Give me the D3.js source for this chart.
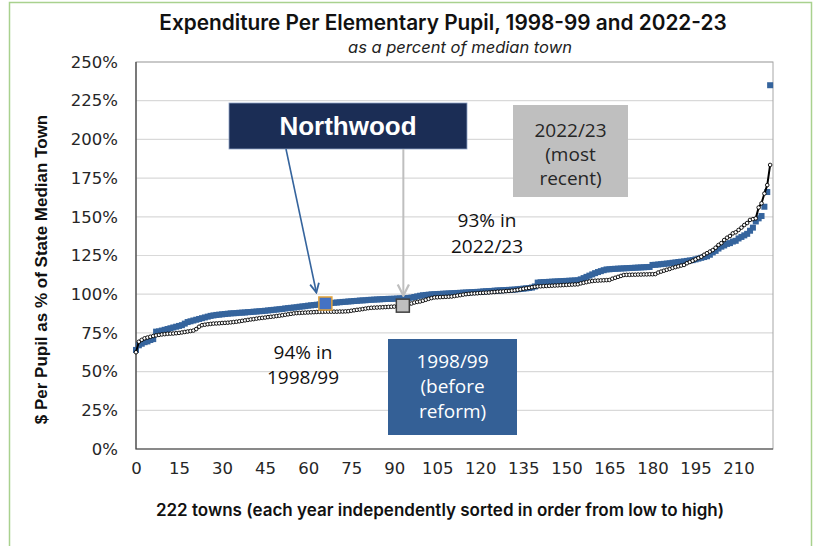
<!DOCTYPE html>
<html lang="en">
<head>
  <meta charset="UTF-8">
  <title>Expenditure Per Elementary Pupil</title>
  <style>
    body { margin: 0; padding: 0; background: #ffffff; }
    svg { display: block; }
  </style>
</head>
<body>
<div id="chart"></div>
<script src="https://d3js.org/d3.v7.min.js"></script>
<script>
  // 1998/99 (blue squares), towns sorted low -> high, % of state median
  const vals9899 = [
    64, 67, 68, 69, 69.5, 70.4, 71, 75.8, 76, 76.5,
    77, 77.5, 78, 78.5, 79, 79.5, 80, 81, 82, 82.5,
    83, 83.5, 84, 84.5, 85, 85.5, 86, 86.3, 86.6, 86.8,
    87, 87.2, 87.4, 87.6, 87.7, 87.8, 88, 88.1, 88.2, 88.4,
    88.5, 88.7, 88.8, 89, 89.1, 89.3, 89.5, 89.7, 89.9, 90.1,
    90.3, 90.5, 90.8, 91, 91.2, 91.4, 91.6, 91.9, 92.1, 92.3,
    92.6, 92.8, 93, 93.2, 93.4, 93.6, 94, 94.1, 94.3, 94.5,
    94.6, 94.8, 95, 95.1, 95.3, 95.4, 95.6, 95.7, 95.9, 96,
    96.1, 96.3, 96.4, 96.5, 96.6, 96.7, 96.8, 96.9, 97, 97,
    97.1, 97.2, 97.3, 97.4, 97.5, 97.6, 97.8, 98.2, 98.6, 99,
    99.3, 99.5, 99.7, 99.9, 100, 100.1, 100.2, 100.3, 100.4, 100.5,
    100.6, 100.7, 100.8, 100.9, 101, 101.1, 101.2, 101.3, 101.4, 101.5,
    101.6, 101.8, 101.9, 102, 102.1, 102.3, 102.4, 102.5, 102.6, 102.7,
    102.8, 102.9, 103, 103.2, 103.4, 103.6, 103.8, 104, 104.3, 105,
    107.5, 107.7, 107.8, 107.9, 108, 108.1, 108.2, 108.3, 108.4, 108.5,
    108.6, 108.7, 108.8, 108.9, 109, 109.6, 110.4, 111.2, 112, 112.8,
    113.6, 114.3, 114.9, 115.5, 116, 116.1, 116.3, 116.4, 116.5, 116.6,
    116.7, 116.8, 116.9, 117, 117.1, 117.2, 117.3, 117.4, 117.5, 117.6,
    118.9, 119, 119.2, 119.4, 119.6, 119.8, 120, 120.3, 120.5, 120.8,
    121, 121.2, 121.5, 121.8, 122, 122.5, 123, 123.5, 124, 124.5,
    125.5, 127, 128, 129.5, 130.7, 131.5, 132.5, 133, 134, 134.5,
    136, 137, 138, 139, 141, 143, 147, 149, 150.5, 156.5,
    166, 235
  ];

  // 2022/23 (black line, white markers)
  const vals2223 = [
    62.5, 69.3, 70.5, 71.5, 72, 72.5, 73, 73.4, 73.7, 74,
    74.2, 74.4, 74.5, 74.6, 74.8, 75, 75.3, 75.6, 75.9, 76.2,
    76.5, 77.5, 79, 80, 80.3, 80.6, 80.8, 81, 81.1, 81.2,
    81.4, 81.5, 81.6, 81.8, 82, 82.2, 82.5, 82.8, 83.1, 83.4,
    83.7, 83.9, 84.2, 84.5, 84.7, 84.9, 85.2, 85.4, 85.6, 85.9,
    86.1, 86.4, 86.7, 87, 87.3, 87.6, 87.8, 87.9, 88, 88.1,
    88.2, 88.3, 88.4, 88.5, 88.6, 88.6, 88.7, 88.7, 88.7, 88.7,
    88.7, 88.8, 88.8, 88.9, 89, 89.3, 89.6, 89.9, 90.1, 90.4,
    90.7, 91, 91.2, 91.3, 91.4, 91.5, 91.6, 91.7, 91.8, 91.9,
    92, 92.2, 92.4, 92.6, 93, 93.5, 94, 94.6, 95, 95.3,
    95.8, 96.4, 97, 97.5, 97.9, 98, 98.1, 98.2, 98.3, 98.4,
    98.5, 98.8, 99.1, 99.4, 99.7, 100, 100.2, 100.4, 100.5, 100.6,
    100.8, 100.9, 101, 101.1, 101.3, 101.4, 101.6, 101.7, 101.8, 102,
    102.1, 102.3, 102.5, 102.8, 103.1, 103.5, 103.8, 104.1, 104.5, 104.8,
    105, 105.1, 105.2, 105.3, 105.4, 105.5, 105.6, 105.7, 105.8, 105.9,
    106, 106.1, 106.2, 106.3, 106.4, 107, 107.4, 107.8, 108.2, 108.5,
    108.7, 108.8, 108.9, 109, 109.1, 109.2, 110, 110.6, 111.2, 111.8,
    112.4, 112.5, 112.5, 112.6, 112.6, 112.7, 112.7, 112.8, 112.8, 112.9,
    112.9, 113, 114, 114.6, 115.2, 115.8, 116.3, 117, 117.5, 118,
    118.5, 118.9, 120, 120.8, 121.6, 122.5, 123.4, 124.2, 125.5, 126.5,
    127.5, 128.5, 130, 131.8, 133, 135, 136.5, 137.6, 139.3, 140,
    141.5, 143, 144.7, 146, 148, 148.5, 149, 156, 158.7, 165,
    170.5, 183.5
  ];

  // Northwood: [town rank, % of median]
  const northwood9899 = [66, 94];
  const northwood2223 = [93, 92.6];

  const xTicks = [0, 15, 30, 45, 60, 75, 90, 105, 120, 135, 150, 165, 180, 195, 210];
  const yTicks = [0, 25, 50, 75, 100, 125, 150, 175, 200, 225, 250];

  const W = 816, H = 546;
  const plot = { left: 136, right: 773, top: 62, bottom: 449 };
  const blue = "#35649d";
  const navy = "#1b2d55";

  const svg = d3.select("#chart").append("svg")
    .attr("width", W).attr("height", H);

  // outer green frame
  svg.append("rect")
    .attr("x", 9.5).attr("y", 2.5).attr("width", 802).attr("height", 560)
    .attr("fill", "none").attr("stroke", "#a9d18e").attr("stroke-width", 1.5);

  const x = d3.scaleLinear().domain([0, 222]).range([plot.left, plot.right]);
  const y = d3.scaleLinear().domain([0, 250]).range([plot.bottom, plot.top]);

  // gridlines
  svg.append("g").selectAll("line").data(yTicks.slice(1)).join("line")
    .attr("x1", plot.left).attr("x2", plot.right)
    .attr("y1", d => y(d)).attr("y2", d => y(d))
    .attr("stroke", "#d9d9d9").attr("stroke-width", 1.2);

  // plot border
  svg.append("rect")
    .attr("x", plot.left).attr("y", plot.top)
    .attr("width", plot.right - plot.left).attr("height", plot.bottom - plot.top)
    .attr("fill", "none").attr("stroke", "#a6a6a6").attr("stroke-width", 1);
  svg.append("path")
    .attr("d", `M${plot.left},${plot.top}V${plot.bottom}H${plot.right}`)
    .attr("fill", "none").attr("stroke", "#404040").attr("stroke-width", 1.2);

  // axes (labels only)
  const tickFont = "DejaVu Sans, Verdana, sans-serif";
  const yAxis = svg.append("g")
    .attr("transform", `translate(${plot.left},0)`)
    .call(d3.axisLeft(y).tickValues(yTicks).tickSize(0).tickPadding(18).tickFormat(d => d + "%"));
  yAxis.select(".domain").remove();
  yAxis.selectAll("text")
    .attr("font-family", tickFont)
    .attr("font-size", 16.5).attr("fill", "#262626");

  const xAxis = svg.append("g")
    .attr("transform", `translate(0,${plot.bottom})`)
    .call(d3.axisBottom(x).tickValues(xTicks).tickSize(0).tickPadding(13).tickFormat(d3.format("d")));
  xAxis.select(".domain").remove();
  xAxis.selectAll("text")
    .attr("font-family", tickFont)
    .attr("font-size", 16.5).attr("fill", "#262626");

  // 1998/99 squares
  svg.append("g").selectAll("rect").data(vals9899).join("rect")
    .attr("x", (d, i) => x(i) - 3)
    .attr("y", d => y(d) - 3)
    .attr("width", 6).attr("height", 6)
    .attr("fill", blue);

  // 2022/23 line with white markers
  const line = d3.line().x((d, i) => x(i)).y(d => y(d));
  svg.append("path").datum(vals2223)
    .attr("d", line).attr("fill", "none")
    .attr("stroke", "#000").attr("stroke-width", 2);
  svg.append("g").selectAll("circle").data(vals2223).join("circle")
    .attr("cx", (d, i) => x(i)).attr("cy", d => y(d))
    .attr("r", 1.8).attr("fill", "#fff")
    .attr("stroke", "#000").attr("stroke-width", 0.9);

  // arrowheads
  const defs = svg.append("defs");
  [["arrBlue", blue], ["arrGray", "#bfbfbf"]].forEach(([id, c]) => {
    defs.append("marker").attr("id", id)
      .attr("viewBox", "0 0 10 10").attr("refX", 9).attr("refY", 5)
      .attr("markerWidth", 7).attr("markerHeight", 7)
      .attr("orient", "auto-start-reverse")
      .append("path").attr("d", "M1,1L9,5L1,9")
      .attr("fill", "none").attr("stroke", c).attr("stroke-width", 1.6);
  });

  // Northwood callout box
  svg.append("rect")
    .attr("x", 229).attr("y", 103).attr("width", 238).attr("height", 46)
    .attr("fill", navy).attr("stroke", "#8ea2c6").attr("stroke-width", 0.8);
  svg.append("text")
    .attr("x", 348).attr("y", 135).attr("text-anchor", "middle")
    .attr("font-family", "Liberation Sans, Arial, sans-serif")
    .attr("font-weight", "bold").attr("font-size", 26).attr("fill", "#fff")
    .text("Northwood");

  svg.append("line")
    .attr("x1", 286).attr("y1", 149)
    .attr("x2", x(northwood9899[0]) - 9).attr("y2", y(northwood9899[1]) - 11)
    .attr("stroke", blue).attr("stroke-width", 1.6)
    .attr("marker-end", "url(#arrBlue)");
  svg.append("line")
    .attr("x1", x(northwood2223[0]) + 0.5).attr("y1", 149)
    .attr("x2", x(northwood2223[0]) + 0.5).attr("y2", y(northwood2223[1]) - 10)
    .attr("stroke", "#bfbfbf").attr("stroke-width", 2)
    .attr("marker-end", "url(#arrGray)");

  // Northwood markers
  svg.append("rect")
    .attr("x", x(northwood9899[0]) - 6.5).attr("y", y(northwood9899[1]) - 6.5)
    .attr("width", 13).attr("height", 13)
    .attr("fill", "#4472c4").attr("stroke", "#e3a33a").attr("stroke-width", 1.5);
  svg.append("rect")
    .attr("x", x(northwood2223[0]) - 6.5).attr("y", y(northwood2223[1]) - 6.5)
    .attr("width", 13).attr("height", 13)
    .attr("fill", "#bfbfbf").attr("stroke", "#404040").attr("stroke-width", 1.5);

  // legend-like boxes
  const boxFont = "Open Sans, Noto Sans, sans-serif";
  svg.append("rect")
    .attr("x", 513).attr("y", 105).attr("width", 115).attr("height", 92)
    .attr("fill", "#bfbfbf");
  ["2022/23", "(most", "recent)"].forEach((t, i) => {
    svg.append("text").attr("x", 570.5).attr("y", 137 + i * 24)
      .attr("text-anchor", "middle").attr("font-family", boxFont)
      .attr("font-size", 19).attr("fill", "#262626").text(t);
  });

  svg.append("rect")
    .attr("x", 388).attr("y", 339).attr("width", 129).attr("height", 96)
    .attr("fill", "#346096");
  ["1998/99", "(before", "reform)"].forEach((t, i) => {
    svg.append("text").attr("x", 452.5).attr("y", 368 + i * 25)
      .attr("text-anchor", "middle").attr("font-family", boxFont)
      .attr("font-size", 19).attr("fill", "#fff").text(t);
  });

  // percentage annotations
  [["93% in", 487, 227], ["2022/23", 487, 253], ["94% in", 303, 359], ["1998/99", 303, 384]]
    .forEach(([t, tx, ty]) => {
      svg.append("text").attr("x", tx).attr("y", ty)
        .attr("text-anchor", "middle").attr("font-family", boxFont)
        .attr("font-size", 19).attr("fill", "#111").text(t);
    });

  // titles
  svg.append("text")
    .attr("x", 443).attr("y", 30).attr("text-anchor", "middle")
    .attr("font-family", "Inter, sans-serif").attr("font-weight", 600)
    .attr("font-size", 20.8).attr("fill", "#111")
    .text("Expenditure Per Elementary Pupil, 1998-99 and 2022-23");
  svg.append("text")
    .attr("x", 460).attr("y", 53).attr("text-anchor", "middle")
    .attr("font-family", "Inter, sans-serif").attr("font-style", "italic")
    .attr("font-size", 16.5).attr("fill", "#222")
    .text("as a percent of median town");

  svg.append("text")
    .attr("transform", `translate(47,${(plot.top + plot.bottom) / 2 + 14}) rotate(-90)`)
    .attr("text-anchor", "middle")
    .attr("font-family", "Liberation Sans, Arial, sans-serif")
    .attr("font-weight", "bold").attr("font-size", 17).attr("fill", "#111")
    .text("$ Per Pupil as % of State Median Town");

  svg.append("text")
    .attr("x", 440).attr("y", 516).attr("text-anchor", "middle")
    .attr("font-family", "Inter, sans-serif").attr("font-weight", 600)
    .attr("font-size", 17).attr("fill", "#111")
    .text("222 towns (each year independently sorted in order from low to high)");
</script>
</body>
</html>
